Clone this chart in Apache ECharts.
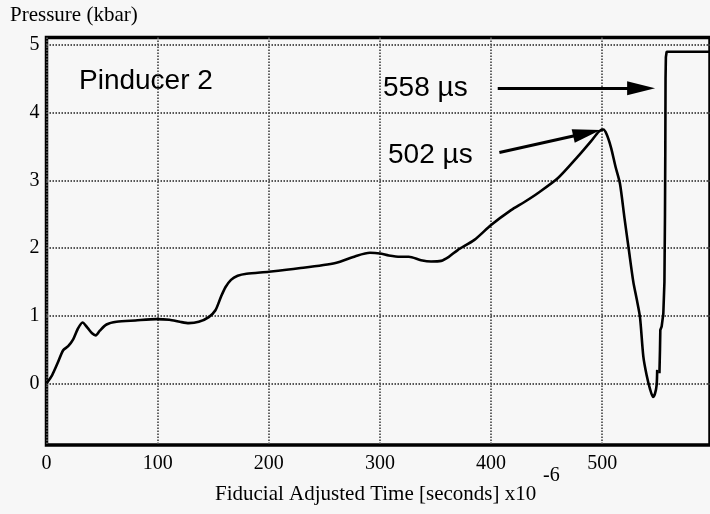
<!DOCTYPE html>
<html>
<head>
<meta charset="utf-8">
<script src="https://cdn.jsdelivr.net/npm/echarts@6/dist/echarts.min.js"></script>
<style>
html,body{margin:0;padding:0;background:#f7f7f7;}
#chart{width:710px;height:514px;}
</style>
</head>
<body>
<div id="chart"></div>
<script>
// ---- data (time in microseconds, pressure in kbar) ----
const xTicks = [0, 100, 200, 300, 400, 500];
const yTicks = [0, 1, 2, 3, 4, 5];
const mainTime = [0, 5, 10, 15, 19.5, 24, 28, 32.4, 37, 41, 44.3, 48, 54, 63, 80, 98.7, 110.6, 120, 128, 137, 146, 152, 157, 161, 166, 172, 180, 200, 227, 260, 278, 291, 300, 308, 318, 326, 337, 346, 355, 362, 370, 385, 400, 418, 430, 442, 460, 478, 490, 497, 501, 504, 508, 512, 516, 520, 524, 528, 531, 534, 537, 540, 543, 545.7, 547.5, 549, 549.5];
const mainPressure = [0, 0.12, 0.3, 0.49, 0.55, 0.65, 0.8, 0.9, 0.82, 0.74, 0.71, 0.78, 0.87, 0.91, 0.93, 0.95, 0.94, 0.91, 0.89, 0.91, 0.98, 1.08, 1.28, 1.42, 1.53, 1.59, 1.62, 1.65, 1.7, 1.78, 1.88, 1.93, 1.92, 1.89, 1.87, 1.87, 1.82, 1.8, 1.81, 1.87, 1.97, 2.12, 2.34, 2.56, 2.68, 2.81, 3.03, 3.35, 3.58, 3.72, 3.75, 3.68, 3.48, 3.2, 2.95, 2.45, 1.97, 1.5, 1.25, 0.98, 0.4, 0.12, -0.08, -0.2, -0.15, -0.02, 0.2];
const riseTime = [551.5, 552, 552.3, 553.5, 555, 556, 556.5, 556.8, 557, 557.3, 558, 600];
const risePressure = [0.15, 0.5, 0.79, 0.84, 1.03, 1.5, 2.5, 3.5, 4.5, 4.82, 4.9, 4.9];
// annotation arrows: [startTime, startP, endTime, endP]
const arrow558 = [406, 4.36, 535, 4.36];
const arrow502 = [407.5, 3.41, 486.2, 3.70];

const mainData = mainTime.map((t, i) => [t, mainPressure[i]]);
const riseData = riseTime.map((t, i) => [t, risePressure[i]]);

const serif = 'Liberation Serif';

const chart = echarts.init(document.getElementById('chart'), null, {renderer: 'canvas'});
chart.setOption({
  backgroundColor: '#f7f7f7',
  animation: false,
  grid: {
    left: 46.5, right: -4, top: 37.5, bottom: 69,
    show: true, borderColor: '#000', borderWidth: 3.5, backgroundColor: 'transparent'
  },
  xAxis: {
    type: 'value', min: 0, max: 597,
    axisLine: {show: false},
    axisTick: {show: false, customValues: xTicks},
    axisLabel: {customValues: xTicks, color: '#000', fontFamily: serif, fontSize: 20, margin: 9},
    splitLine: {show: true, lineStyle: {color: '#555', width: 1.8, type: [1.5, 1.5]}}
  },
  yAxis: {
    type: 'value', min: -0.91, max: 5.11,
    axisLine: {show: false},
    axisTick: {show: false, customValues: yTicks},
    axisLabel: {customValues: yTicks, color: '#000', fontFamily: serif, fontSize: 20, margin: 7},
    splitLine: {show: true, lineStyle: {color: '#555', width: 1.8, type: [1.5, 1.5]}}
  },
  series: [
    {
      type: 'line', data: mainData, smooth: 0.25, showSymbol: false, silent: true,
      lineStyle: {color: '#000', width: 2.6},
      markLine: {
        silent: true, symbol: ['none', 'triangle'], symbolSize: [14, 28],
        label: {show: false},
        lineStyle: {color: '#000', width: 3, type: 'solid'},
        emphasis: {disabled: true},
        data: [
          [{coord: [arrow558[0], arrow558[1]]}, {coord: [arrow558[2], arrow558[3]]}],
          [{coord: [arrow502[0], arrow502[1]]}, {coord: [arrow502[2], arrow502[3]]}]
        ]
      }
    },
    {
      type: 'line', data: riseData, smooth: false, showSymbol: false, silent: true,
      lineStyle: {color: '#000', width: 2.6}
    }
  ],
  graphic: [
    {type: 'text', left: 10, top: 5, style: {text: 'Pressure (kbar)', fill: '#000', font: '21px "Liberation Serif"'}},
    {type: 'text', left: 79, top: 67, style: {text: 'Pinducer 2', fill: '#000', font: '28px "Liberation Sans"'}},
    {type: 'text', left: 383, top: 74, style: {text: '558 µs', fill: '#000', font: '28px "Liberation Sans"'}},
    {type: 'text', left: 388, top: 141, style: {text: '502 µs', fill: '#000', font: '28px "Liberation Sans"'}},
    {type: 'text', left: 215, top: 484, style: {text: 'Fiducial Adjusted Time [seconds] x10', fill: '#000', font: '21px "Liberation Serif"'}},
    {type: 'text', left: 543, top: 466, style: {text: '-6', fill: '#000', font: '20px "Liberation Serif"'}}
  ]
});
</script>
</body>
</html>
